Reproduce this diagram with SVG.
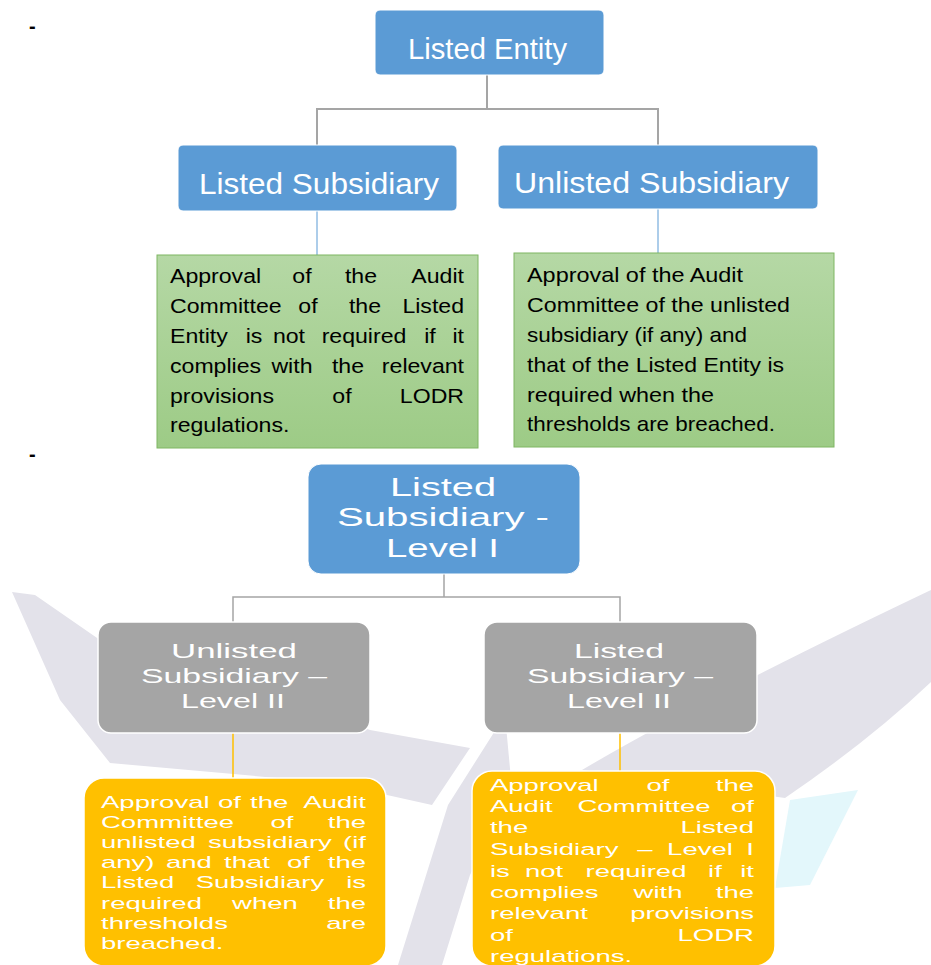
<svg xmlns="http://www.w3.org/2000/svg" width="931" height="965" viewBox="0 0 931 965">
<defs>
<linearGradient id="gg" x1="0" y1="0" x2="0" y2="1">
<stop offset="0" stop-color="#b5d8a5"/>
<stop offset="1" stop-color="#9dcb86"/>
</linearGradient>
<style>
.t{font-family:"Liberation Sans",Arial,sans-serif}
.w{fill:#ffffff}
.k{fill:#000000}
.e{text-anchor:end}
.m{text-anchor:middle}
.blue{fill:#5b9bd5;stroke:#ffffff;stroke-width:1}
.gray{fill:#a5a5a5;stroke:#ffffff;stroke-width:1.5}
.orange{fill:#ffc000;stroke:#ffffff;stroke-width:1.5}
.green{fill:url(#gg);stroke:#7fb662;stroke-width:1}
.wm{fill:#e3e2ea}
.g{font-size:21px}
.o{font-size:16px}
</style>
</defs>
<rect width="931" height="965" fill="#ffffff"/>

<g id="watermark">
<path class="wm" d="M12 592 L35 595 L100 640 L370 730 L470 748 L432 805 L333 783 L110 763 L60 700 Z"/>
<path class="wm" d="M505 715 L512 790 L470 875 L442 965 L398 965 L448 805 Z"/>
<path class="wm" d="M931 590 L931 682 Q870 740 785 798 L582 770 Q700 700 931 590 Z"/>
<path fill="#e3f7fb" d="M790 800 L858 790 L810 885 L775 888 Z"/>
</g>

<text class="t k" x="29" y="33" font-size="20" font-weight="bold">-</text>
<text class="t k" x="29" y="461" font-size="20" font-weight="bold">-</text>

<g id="connectors">
<path d="M487 75 V109 M317 145 V109 H658 V145" fill="none" stroke="#a5a5a5" stroke-width="2"/>
<path d="M317 211 V255 M658 209 V253" fill="none" stroke="#5b9bd5" stroke-width="1"/>
<path d="M444 574 V597 M233 622 V597 H620 V622" fill="none" stroke="#a5a5a5" stroke-width="1.5"/>
<path d="M233 733 V778 M620 733 V771" fill="none" stroke="#ffc000" stroke-width="1.5"/>
</g>

<g id="listed-entity">
<rect class="blue" x="375" y="10" width="229" height="65" rx="5"/>
<text class="t w" x="408" y="59" font-size="29" textLength="159" lengthAdjust="spacingAndGlyphs">Listed Entity</text>
</g>

<g id="listed-subsidiary">
<rect class="blue" x="178" y="145" width="279" height="66" rx="5"/>
<text class="t w" x="199" y="194" font-size="29" textLength="240" lengthAdjust="spacingAndGlyphs">Listed Subsidiary</text>
</g>

<g id="unlisted-subsidiary">
<rect class="blue" x="498" y="145" width="320" height="64" rx="5"/>
<text class="t w" x="514" y="193" font-size="29" textLength="275" lengthAdjust="spacingAndGlyphs">Unlisted Subsidiary</text>
</g>

<g id="note-listed">
<rect class="green" x="157" y="255" width="321" height="193"/>
<g transform="scale(1.1 1)" class="t k g">
<text x="154.55" y="283">Approval</text><text class="m" x="274.55" y="283">of</text><text class="m" x="328.18" y="283">the</text><text class="e" x="421.82" y="283">Audit</text>
<text x="154.55" y="313">Committee</text><text class="m" x="280" y="313">of</text><text class="m" x="331.82" y="313">the</text><text class="e" x="421.82" y="313">Listed</text>
<text x="154.55" y="343">Entity</text><text class="m" x="230.91" y="343">is</text><text class="m" x="262.73" y="343">not</text><text class="m" x="330.91" y="343">required</text><text class="m" x="390.91" y="343">if</text><text class="e" x="421.82" y="343">it</text>
<text x="154.55" y="373">complies</text><text class="m" x="265.45" y="373">with</text><text class="m" x="316.36" y="373">the</text><text class="e" x="421.82" y="373">relevant</text>
<text x="154.55" y="403">provisions</text><text class="m" x="310.91" y="403">of</text><text class="e" x="421.82" y="403">LODR</text>
<text x="154.55" y="432">regulations.</text>
</g>
</g>

<g id="note-unlisted">
<rect class="green" x="514" y="253" width="320" height="194"/>
<g class="t k g">
<text x="527" y="282" textLength="216" lengthAdjust="spacingAndGlyphs">Approval of the Audit</text>
<text x="527" y="312" textLength="263" lengthAdjust="spacingAndGlyphs">Committee of the unlisted</text>
<text x="527" y="342" textLength="220" lengthAdjust="spacingAndGlyphs">subsidiary (if any) and</text>
<text x="527" y="372" textLength="257" lengthAdjust="spacingAndGlyphs">that of the Listed Entity is</text>
<text x="527" y="402" textLength="187" lengthAdjust="spacingAndGlyphs">required when the</text>
<text x="527" y="431" textLength="248" lengthAdjust="spacingAndGlyphs">thresholds are breached.</text>
</g>
</g>

<g id="listed-subsidiary-level1">
<rect class="blue" x="308" y="464" width="272" height="110" rx="13"/>
<g class="t w" font-size="25">
<text x="390" y="496" textLength="106" lengthAdjust="spacingAndGlyphs">Listed</text>
<text x="337" y="526" textLength="212" lengthAdjust="spacingAndGlyphs">Subsidiary -</text>
<text x="386" y="557" textLength="113" lengthAdjust="spacingAndGlyphs">Level I</text>
</g>
</g>

<g id="unlisted-subsidiary-level2">
<rect class="gray" x="98" y="622" width="272" height="111" rx="13"/>
<g class="t w" font-size="21">
<text x="171" y="658" textLength="126" lengthAdjust="spacingAndGlyphs">Unlisted</text>
<text x="141" y="683" textLength="186" lengthAdjust="spacingAndGlyphs">Subsidiary –</text>
<text x="181" y="708" textLength="104" lengthAdjust="spacingAndGlyphs">Level II</text>
</g>
</g>

<g id="listed-subsidiary-level2">
<rect class="gray" x="484" y="622" width="273" height="111" rx="13"/>
<g class="t w" font-size="21">
<text x="574" y="658" textLength="90" lengthAdjust="spacingAndGlyphs">Listed</text>
<text x="527" y="683" textLength="186" lengthAdjust="spacingAndGlyphs">Subsidiary –</text>
<text x="567" y="708" textLength="104" lengthAdjust="spacingAndGlyphs">Level II</text>
</g>
</g>

<g id="note-unlisted-level2">
<rect class="orange" x="84" y="778" width="302" height="188" rx="20"/>
<g transform="scale(1.72 1)" class="t w o">
<text x="58.72" y="808">Approval</text><text x="126.74" y="808">of</text><text x="145.35" y="808">the</text><text class="e" x="212.79" y="808">Audit</text>
<text x="58.72" y="828">Committee</text><text class="m" x="163.95" y="828">of</text><text class="e" x="212.79" y="828">the</text>
<text x="58.72" y="848">unlisted</text><text x="120.93" y="848">subsidiary</text><text class="e" x="212.79" y="848">(if</text>
<text x="58.72" y="868">any)</text><text x="96.51" y="868">and</text><text x="130.23" y="868">that</text><text x="166.86" y="868">of</text><text class="e" x="212.79" y="868">the</text>
<text x="58.72" y="888">Listed</text><text class="m" x="151.16" y="888">Subsidiary</text><text class="e" x="212.79" y="888">is</text>
<text x="58.72" y="909">required</text><text class="m" x="154.07" y="909">when</text><text class="e" x="212.79" y="909">the</text>
<text x="58.72" y="929">thresholds</text><text class="e" x="212.79" y="929">are</text>
<text x="58.72" y="949">breached.</text>
</g>
</g>

<g id="note-listed-level2">
<rect class="orange" x="472" y="771" width="303" height="195" rx="20"/>
<g transform="scale(1.72 1)" class="t w o">
<text x="284.88" y="791">Approval</text><text class="m" x="382.56" y="791">of</text><text class="e" x="438.37" y="791">the</text>
<text x="284.88" y="812">Audit</text><text class="m" x="374.42" y="812">Committee</text><text class="e" x="438.37" y="812">of</text>
<text x="284.88" y="833">the</text><text class="e" x="438.37" y="833">Listed</text>
<text x="284.88" y="855">Subsidiary</text><text class="m" x="375" y="855">–</text><text class="m" x="406.98" y="855">Level</text><text class="e" x="438.37" y="855">I</text>
<text x="284.88" y="877">is</text><text class="m" x="316.28" y="877">not</text><text class="m" x="369.77" y="877">required</text><text class="m" x="415.7" y="877">if</text><text class="e" x="438.37" y="877">it</text>
<text x="284.88" y="898">complies</text><text class="m" x="382.56" y="898">with</text><text class="e" x="438.37" y="898">the</text>
<text x="284.88" y="919">relevant</text><text class="e" x="438.37" y="919">provisions</text>
<text x="284.88" y="941">of</text><text class="e" x="438.37" y="941">LODR</text>
<text x="284.88" y="962">regulations.</text>
</g>
</g>
</svg>
